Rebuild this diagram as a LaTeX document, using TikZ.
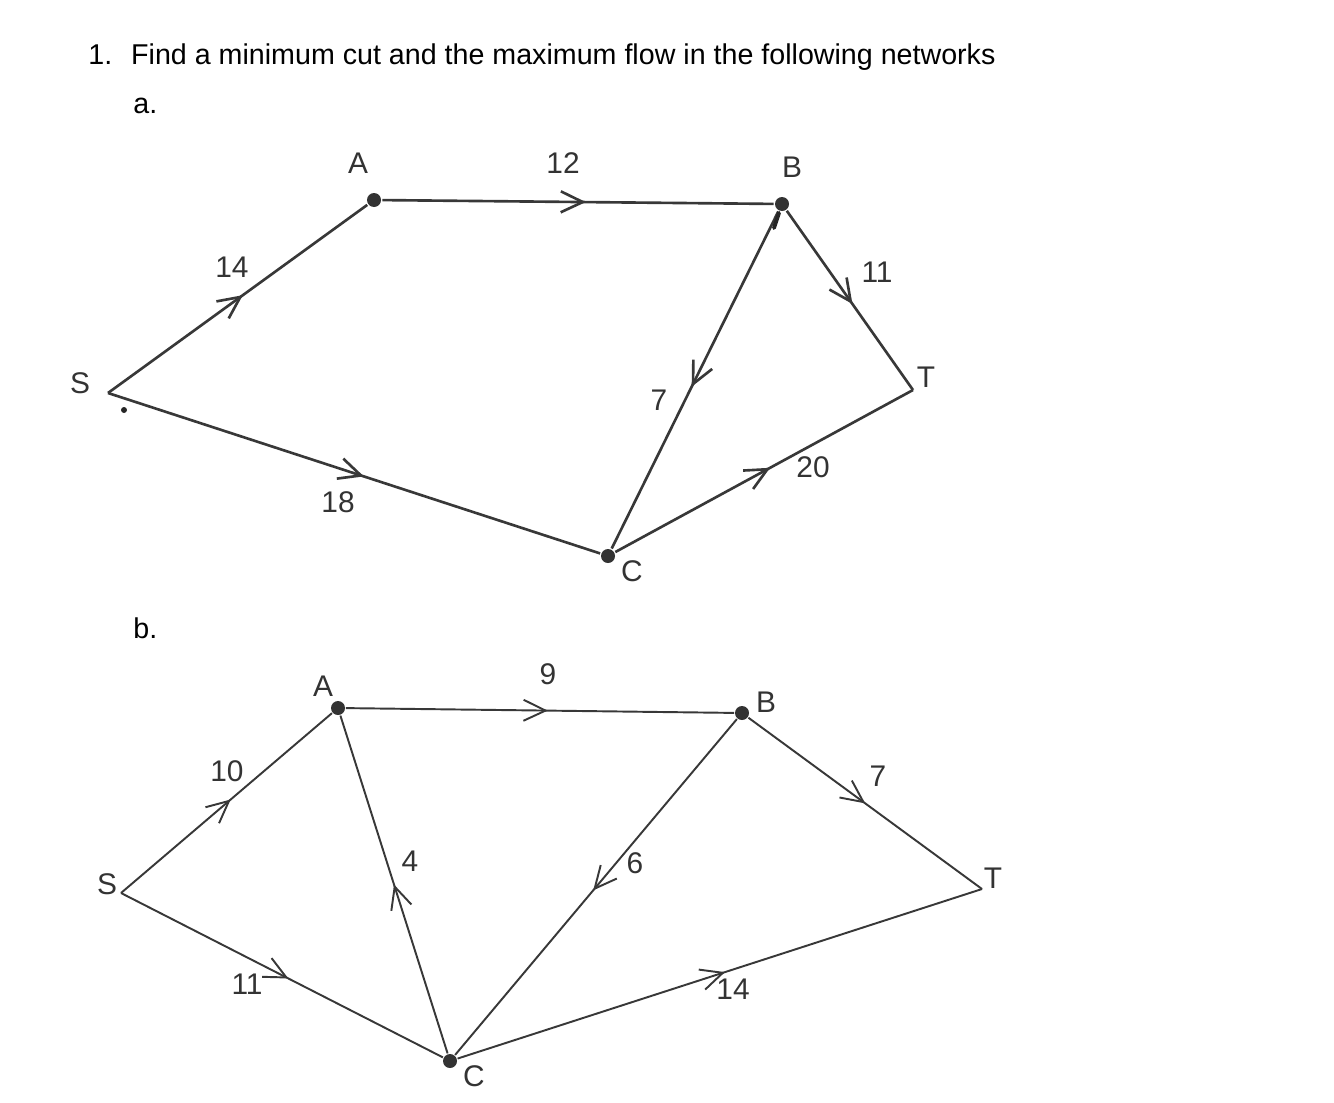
\documentclass[tikz,border=0pt]{standalone}
\usepackage{fontspec}
\setmainfont{Liberation Sans}
\usetikzlibrary{arrows.meta, decorations.markings}

\tikzset{
  vertex/.style={circle, fill=black!80, inner sep=0pt, minimum size=0.28cm},
  flow/.style={color=black!78, postaction={decorate},
    decoration={markings, mark=at position #1 with {\arrow{Straight Barb[length=4.4mm, width=4.2mm]}}}},
  flow/.default=0.52,
  lbl/.style={font=\fontsize{17}{20}\selectfont, text=black!80, inner sep=0pt},
  question/.style={font=\fontsize{16.3}{19}\selectfont, inner sep=0pt, anchor=base west},
}

\begin{document}
\begin{tikzpicture}[x=0.02cm, y=-0.02cm]
    \useasboundingbox (0,0) rectangle (1334,1102);

    % Question
    \node[question] (qtext) at (88,64) {\makebox[24.4pt][l]{1.}Find a minimum cut and the maximum flow in the following networks};
    \node[question] (parta) at (133,113) {a.};
    \node[question] (partb) at (133,638) {b.};

    % Network a
    \begin{scope}[line width=1.5pt]
        \coordinate (aS) at (108,393);
        \node[vertex] (aA) at (374,200) {};
        \node[vertex] (aB) at (782,204) {};
        \node[vertex] (aC) at (608,556) {};
        \coordinate (aT) at (913,390);

        \draw[flow] (aS) -- (aA);
        \draw[flow] (aA) -- (aB);
        \draw[flow] (aS) -- (aC);
        \draw[flow] (aB) -- (aC);
        \draw[flow] (aB) -- (aT);
        \draw[flow] (aC) -- (aT);

        % stray marks of the scan
        \fill[black!85] (124,410) circle (3);
        \draw[black!85, line width=2.2pt, line cap=round] (779,213) -- (774,228);
    \end{scope}

    \node[lbl] (aSlab) at (80,383) {S};
    \node[lbl] (aAlab) at (358,163) {A};
    \node[lbl] (aBlab) at (792,167) {B};
    \node[lbl] (aClab) at (632,571) {C};
    \node[lbl] (aTlab) at (926,377) {T};
    \node[lbl] (aSA) at (232,267) {14};
    \node[lbl] (aAB) at (563,163) {12};
    \node[lbl] (aSC) at (338,502) {18};
    \node[lbl] (aBC) at (659,400) {7};
    \node[lbl] (aBT) at (877,272) {11};
    \node[lbl] (aCT) at (813,467) {20};

    % Network b
    \begin{scope}[line width=1.1pt]
        \coordinate (bS) at (121,893);
        \node[vertex] (bA) at (338,708) {};
        \node[vertex] (bB) at (742,713) {};
        \node[vertex] (bC) at (450,1061) {};
        \coordinate (bT) at (982,889);

        \draw[flow] (bS) -- (bA);
        \draw[flow] (bA) -- (bB);
        \draw[flow] (bS) -- (bC);
        \draw[flow=0.5] (bC) -- (bA);
        \draw[flow=0.51] (bB) -- (bC);
        \draw[flow=0.5] (bB) -- (bT);
        \draw[flow=0.51] (bC) -- (bT);
    \end{scope}

    \node[lbl] (bSlab) at (107,884) {S};
    \node[lbl] (bAlab) at (323,686) {A};
    \node[lbl] (bBlab) at (766,702) {B};
    \node[lbl] (bClab) at (474,1076) {C};
    \node[lbl] (bTlab) at (993,878) {T};
    \node[lbl] (bSA) at (227,771) {10};
    \node[lbl] (bAB) at (548,674) {9};
    \node[lbl] (bSC) at (247,984) {11};
    \node[lbl] (bCA) at (410,861) {4};
    \node[lbl] (bBC) at (635,863) {6};
    \node[lbl] (bBT) at (878,776) {7};
    \node[lbl] (bCT) at (733,989) {14};
\end{tikzpicture}
\end{document}
